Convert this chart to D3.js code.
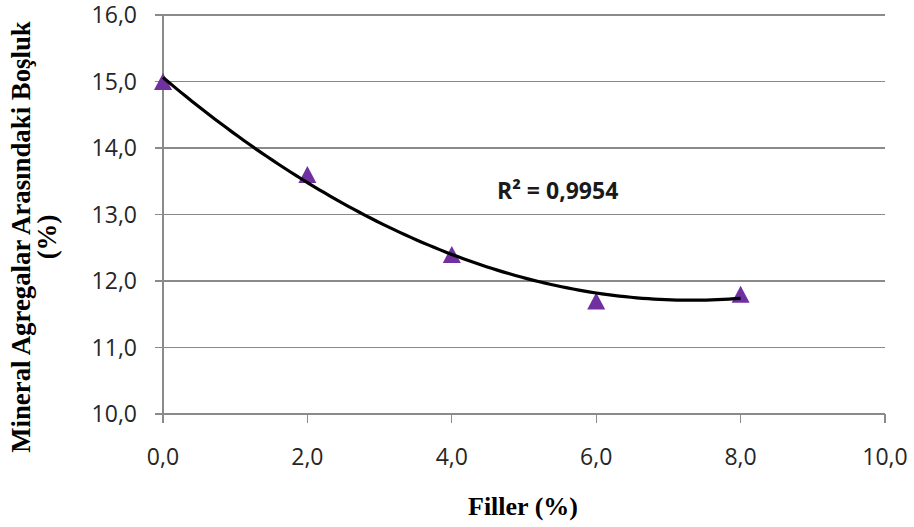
<!DOCTYPE html>
<html>
<head>
<meta charset="utf-8">
<script src="https://cdn.jsdelivr.net/npm/d3@7"></script>
<style>
  html, body { margin: 0; padding: 0; background: #fff; }
  svg { display: block; }
</style>
</head>
<body>
<svg id="chart" width="914" height="527"></svg>
<script>
// ---- data ----
const fillerPct = [0, 2, 4, 6, 8];
const vmaValues = [15.0, 13.6, 12.4, 11.7, 11.8];
const xTicks = [0, 2, 4, 6, 8, 10];
const yTicks = [10, 11, 12, 13, 14, 15, 16];
const xTitle = "Filler (%)";
const yTitleLines = ["Mineral Agregalar Arasındaki Boşluk", "(%)"];
const r2Label = "R² = 0,9954";

// ---- layout ----
const svg = d3.select("#chart");
const margin = { left: 163, right: 29, top: 15, bottom: 113 };
const W = 914, H = 527;
const x = d3.scaleLinear().domain([0, 10]).range([margin.left, W - margin.right]);
const y = d3.scaleLinear().domain([10, 16]).range([H - margin.bottom, margin.top]);
const fmt = v => v.toFixed(1).replace(".", ",");
const gridColor = "#8a8a8a";
const labelFont = "'Open Sans', sans-serif";

// horizontal gridlines + left ticks
svg.append("g").selectAll("line").data(yTicks).join("line")
  .attr("x1", x(0) - 8).attr("x2", x(10))
  .attr("y1", d => y(d)).attr("y2", d => y(d))
  .attr("stroke", gridColor).attr("stroke-width", 1.2)
  .attr("shape-rendering", "crispEdges");

// vertical axis line
svg.append("line")
  .attr("x1", x(0)).attr("x2", x(0))
  .attr("y1", y(16)).attr("y2", y(10) + 9)
  .attr("stroke", gridColor).attr("stroke-width", 1.2)
  .attr("shape-rendering", "crispEdges");

// x ticks
svg.append("g").selectAll("line").data(xTicks).join("line")
  .attr("x1", d => x(d)).attr("x2", d => x(d))
  .attr("y1", y(10)).attr("y2", y(10) + 9)
  .attr("stroke", gridColor).attr("stroke-width", 1.2)
  .attr("shape-rendering", "crispEdges");

// y tick labels
svg.append("g").selectAll("text").data(yTicks).join("text")
  .attr("x", x(0) - 26).attr("y", d => y(d))
  .attr("dy", "0.36em")
  .attr("text-anchor", "end")
  .attr("font-family", labelFont).attr("font-size", 23)
  .attr("fill", "#262626")
  .text(fmt);

// x tick labels
svg.append("g").selectAll("text").data(xTicks).join("text")
  .attr("x", d => x(d)).attr("y", y(10) + 51)
  .attr("text-anchor", "middle")
  .attr("font-family", labelFont).attr("font-size", 23)
  .attr("fill", "#262626")
  .text(fmt);

// polynomial (order 2) least-squares trendline from the data
function polyFit2(xs, ys) {
  const n = xs.length;
  let s = [0, 0, 0, 0, 0], t = [0, 0, 0];
  for (let i = 0; i < n; i++) {
    for (let k = 0; k <= 4; k++) s[k] += Math.pow(xs[i], k);
    for (let k = 0; k <= 2; k++) t[k] += ys[i] * Math.pow(xs[i], k);
  }
  const M = [[s[0], s[1], s[2], t[0]], [s[1], s[2], s[3], t[1]], [s[2], s[3], s[4], t[2]]];
  for (let i = 0; i < 3; i++) {
    let p = i;
    for (let r = i + 1; r < 3; r++) if (Math.abs(M[r][i]) > Math.abs(M[p][i])) p = r;
    [M[i], M[p]] = [M[p], M[i]];
    for (let r = 0; r < 3; r++) if (r !== i) {
      const f = M[r][i] / M[i][i];
      for (let c = i; c < 4; c++) M[r][c] -= f * M[i][c];
    }
  }
  return [M[0][3] / M[0][0], M[1][3] / M[1][1], M[2][3] / M[2][2]];
}
const coef = polyFit2(fillerPct, vmaValues);
const xMin = d3.min(fillerPct), xMax = d3.max(fillerPct);
const curvePts = d3.range(0, 101).map(i => {
  const xv = xMin + (xMax - xMin) * i / 100;
  return [xv, coef[0] + coef[1] * xv + coef[2] * xv * xv];
});

// markers (drawn first; trendline over them)
const triW = 18, triH = 17;
svg.append("g").selectAll("path").data(fillerPct.map((d, i) => [d, vmaValues[i]])).join("path")
  .attr("d", d => {
    const cx = x(d[0]), cy = y(d[1]);
    const p = d3.path();
    p.moveTo(cx, cy - triH / 2);
    p.lineTo(cx + triW / 2, cy + triH / 2);
    p.lineTo(cx - triW / 2, cy + triH / 2);
    p.closePath();
    return p.toString();
  })
  .attr("fill", "#7030A0");

svg.append("path")
  .datum(curvePts)
  .attr("d", d3.line().x(d => x(d[0])).y(d => y(d[1])).curve(d3.curveLinear))
  .attr("fill", "none").attr("stroke", "#000").attr("stroke-width", 3.2)
  .attr("stroke-linejoin", "round");

// R² label
svg.append("text")
  .attr("x", 497).attr("y", 199)
  .attr("font-family", labelFont).attr("font-size", 23).attr("font-weight", "bold")
  .attr("fill", "#1a1a1a")
  .text(r2Label);

// axis titles
svg.append("text")
  .attr("x", (x(0) + x(10)) / 2 - 1).attr("y", 515)
  .attr("text-anchor", "middle")
  .attr("font-family", "'Liberation Serif', 'Times New Roman', serif")
  .attr("font-size", 26).attr("font-weight", "bold")
  .attr("fill", "#000")
  .text(xTitle);

const yt = svg.append("text")
  .attr("transform", "translate(0,237) rotate(-90)")
  .attr("text-anchor", "middle")
  .attr("font-family", "'Liberation Serif', 'Times New Roman', serif")
  .attr("font-size", 26.8).attr("font-weight", "bold")
  .attr("fill", "#000");
yt.selectAll("tspan").data(yTitleLines).join("tspan")
  .attr("x", 0)
  .attr("y", (d, i) => i === 0 ? 30 : 56)
  .text(d => d);
</script>
</body>
</html>
